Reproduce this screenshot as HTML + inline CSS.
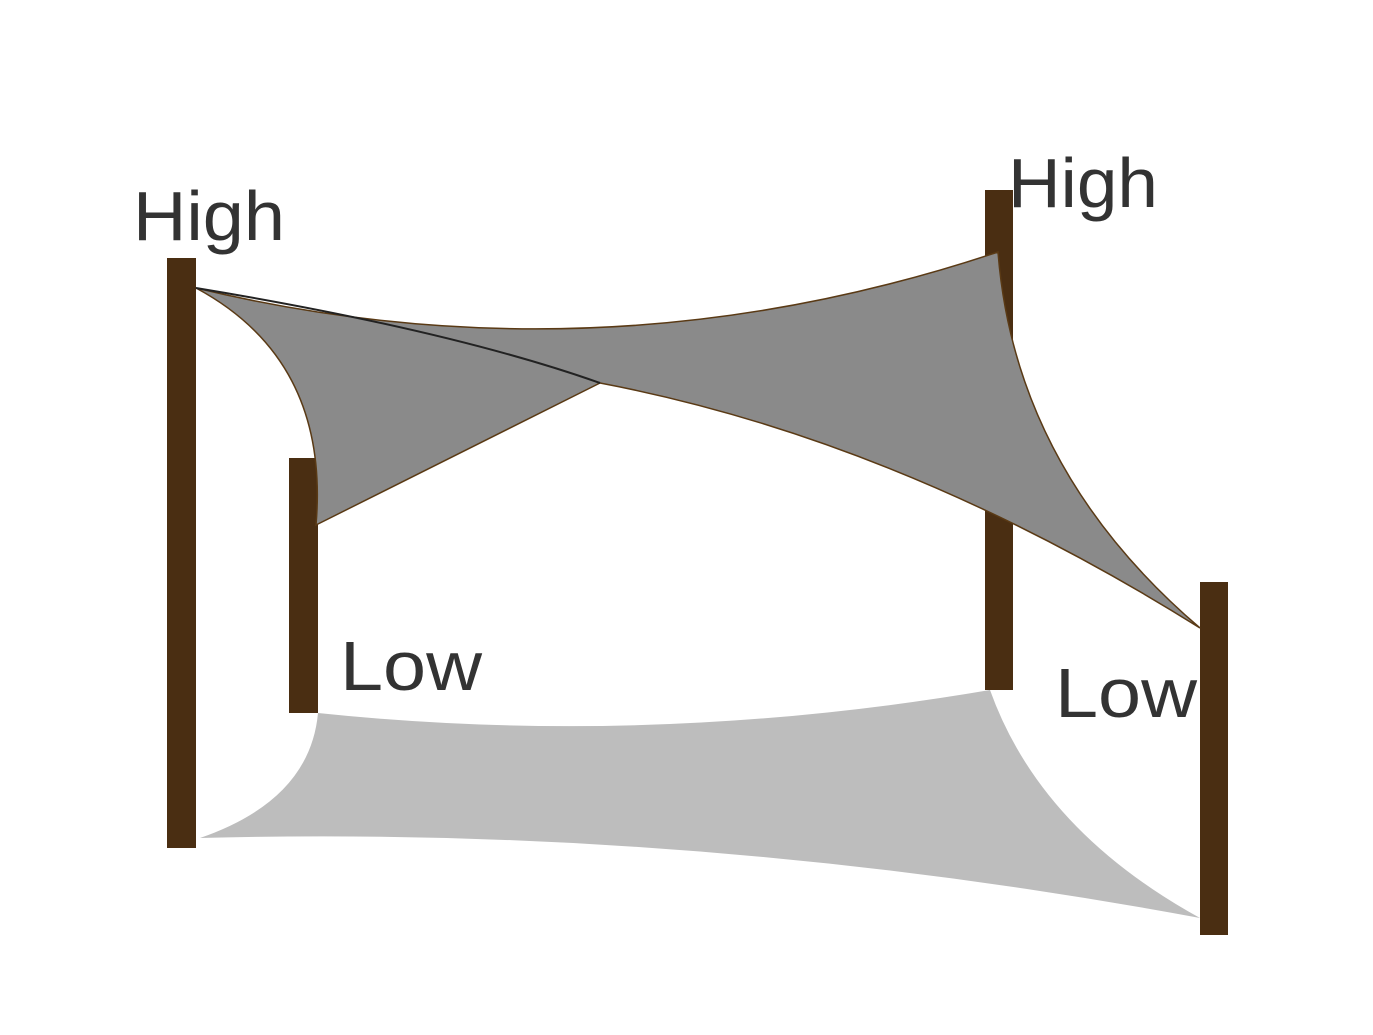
<!DOCTYPE html>
<html><head><style>html,body{margin:0;padding:0;background:#fff;}</style></head>
<body>
<svg width="1373" height="1030" viewBox="0 0 1373 1030" xmlns="http://www.w3.org/2000/svg">
<rect width="1373" height="1030" fill="#fff"/>
<path d="M318,713 Q650,748 990,690 Q1040,830 1200,918 Q700,825 200,838 Q310,800 318,713 Z" fill="#bdbdbd"/>
<rect x="167" y="258" width="29" height="590" fill="#4a2e12"/>
<rect x="289" y="458" width="29" height="255" fill="#4a2e12"/>
<rect x="985" y="190" width="28" height="500" fill="#4a2e12"/>
<rect x="1200" y="582" width="28" height="353" fill="#4a2e12"/>
<path d="M196,288 Q600,385 998,252 Q1015,470 1200,628 Q900,440 600,383 L316,525 Q330,360 196,288 Z" fill="#8a8a8a" stroke="#5a3a15" stroke-width="1.5"/>
<path d="M196,288 Q450,330 600,383" fill="none" stroke="#222" stroke-width="2"/>
<g font-family="Liberation Sans, sans-serif" font-size="70" fill="#333">
<text x="133" y="240" textLength="152" lengthAdjust="spacingAndGlyphs">High</text>
<text x="1008" y="207" textLength="150" lengthAdjust="spacingAndGlyphs">High</text>
<text x="340" y="690" textLength="142" lengthAdjust="spacingAndGlyphs">Low</text>
<text x="1055" y="717" textLength="142" lengthAdjust="spacingAndGlyphs">Low</text>
</g>
</svg>
</body></html>
